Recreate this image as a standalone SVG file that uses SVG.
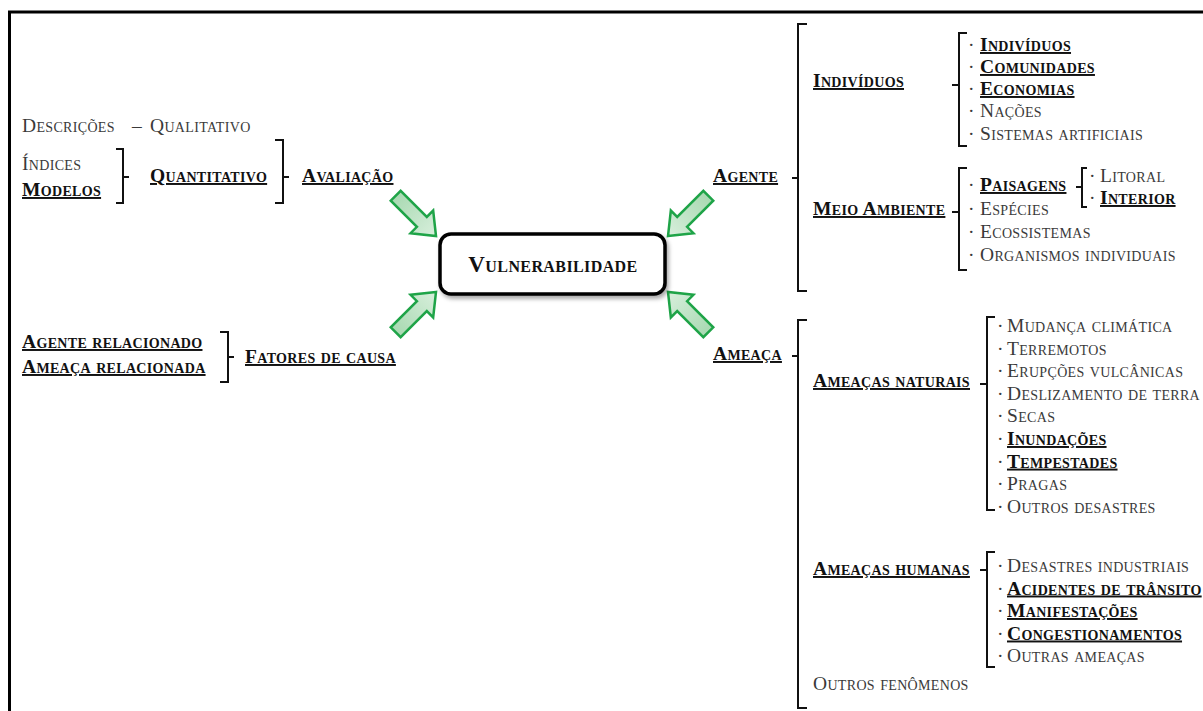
<svg xmlns="http://www.w3.org/2000/svg" width="1203" height="711" viewBox="0 0 1203 711">
<defs>
<style>
.t{font-family:"Liberation Serif","Times New Roman",serif;font-size:19.5px;letter-spacing:0.33px;font-variant:small-caps;fill:#3a3a3a}
.b{font-weight:bold;fill:#111;text-decoration:underline}
.br{fill:none;stroke:#111;stroke-width:2}
.arw{fill:url(#g);stroke:#1fa448;stroke-width:2.5;stroke-linejoin:miter}
</style>
<linearGradient id="g" x1="0" y1="0" x2="1" y2="0">
<stop offset="0" stop-color="#a9d9b2"/>
<stop offset="1" stop-color="#d8efdc"/>
</linearGradient>
<filter id="sh" x="-10%" y="-20%" width="130%" height="150%">
<feDropShadow dx="2" dy="3" stdDeviation="2" flood-color="#000" flood-opacity="0.35"/>
</filter>
<path id="arrow" d="M0,0 L-20,-16 L-20,-7 L-57,-7 L-57,7 L-20,7 L-20,16 Z"/>
</defs>
<rect width="1203" height="711" fill="#fff"/>
<path d="M9.5,711 V12 H1203" fill="none" stroke="#000" stroke-width="3"/>

<g id="connectors">
<path class="br" d="M116,149 H123 V203 H116 M123,177 H129"/>
<path class="br" d="M275,140 H283 V203 H275 M283,177 H289"/>
<path class="br" d="M220,332 H228 V382 H220 M228,357 H234"/>
<path class="br" d="M807,24 H798 V291 H807 M798,178 H792"/>
<path class="br" d="M807,320 H798 V708 H807 M798,356 H792"/>
<path class="br" d="M967,33 H959 V146 H967 M959,85 H952"/>
<path class="br" d="M967,168 H959 V270 H967 M959,212 H952"/>
<path class="br" d="M1087,168 H1082 V207 H1087 M1082,187 H1076"/>
<path class="br" d="M995,317 H987 V510 H995 M987,384 H980"/>
<path class="br" d="M995,552 H987 V667 H995 M987,570 H980"/>
<use href="#arrow" class="arw" transform="translate(436,236) rotate(45)"/>
<use href="#arrow" class="arw" transform="translate(668,236) rotate(135)"/>
<use href="#arrow" class="arw" transform="translate(436,292) rotate(-45)"/>
<use href="#arrow" class="arw" transform="translate(668,292) rotate(-135)"/>
</g>

<g id="vulnerabilidade">
<rect x="440" y="234" width="225" height="60" rx="11" fill="#fff" stroke="#000" stroke-width="3.5" filter="url(#sh)"/>
<text class="t" x="553" y="272" text-anchor="middle" style="font-size:23px;letter-spacing:0.4px;font-weight:bold;fill:#111">Vulnerabilidade</text>
</g>

<g id="avaliacao">
<text class="t" y="132"><tspan x="22">Descrições</tspan><tspan x="132">–</tspan><tspan x="150">Qualitativo</tspan></text>
<text class="t" x="22" y="170">Índices</text>
<text class="t b" x="22" y="196">Modelos</text>
<text class="t b" x="150" y="182">Quantitativo</text>
<text class="t b" x="302" y="182">Avaliação</text>
</g>

<g id="fatores">
<text class="t b" x="22" y="348">Agente relacionado</text>
<text class="t b" x="22" y="373">Ameaça relacionada</text>
<text class="t b" x="245" y="363">Fatores de causa</text>
</g>

<g id="agente">
<text class="t b" x="713" y="182">Agente</text>
</g>

<g id="individuos">
<text class="t b" x="813" y="87">Indivíduos</text>
<text class="t"><tspan x="968" y="51">·</tspan><tspan x="980" y="51" class="b">Indivíduos</tspan></text>
<text class="t"><tspan x="968" y="73">·</tspan><tspan x="980" y="73" class="b">Comunidades</tspan></text>
<text class="t"><tspan x="968" y="95">·</tspan><tspan x="980" y="95" class="b">Economias</tspan></text>
<text class="t"><tspan x="968" y="117">·</tspan><tspan x="980" y="117">Nações</tspan></text>
<text class="t"><tspan x="968" y="140">·</tspan><tspan x="980" y="140">Sistemas artificiais</tspan></text>
</g>

<g id="meio-ambiente">
<text class="t b" x="813" y="215">Meio Ambiente</text>
<text class="t"><tspan x="968" y="191">·</tspan><tspan x="980" y="191" class="b">Paisagens</tspan></text>
<text class="t"><tspan x="968" y="215">·</tspan><tspan x="980" y="215">Espécies</tspan></text>
<text class="t"><tspan x="968" y="238">·</tspan><tspan x="980" y="238">Ecossistemas</tspan></text>
<text class="t"><tspan x="968" y="261">·</tspan><tspan x="980" y="261">Organismos individuais</tspan></text>
<text class="t"><tspan x="1089" y="182">·</tspan><tspan x="1100" y="182">Litoral</tspan></text>
<text class="t"><tspan x="1089" y="204">·</tspan><tspan x="1100" y="204" class="b">Interior</tspan></text>
</g>

<g id="ameaca">
<text class="t b" x="713" y="360">Ameaça</text>
</g>

<g id="ameacas-naturais">
<text class="t b" x="813" y="387">Ameaças naturais</text>
<text class="t"><tspan x="997" y="332">·</tspan><tspan x="1007" y="332">Mudança climática</tspan></text>
<text class="t"><tspan x="997" y="354.6">·</tspan><tspan x="1007" y="354.6">Terremotos</tspan></text>
<text class="t"><tspan x="997" y="377.2">·</tspan><tspan x="1007" y="377.2">Erupções vulcânicas</tspan></text>
<text class="t"><tspan x="997" y="399.8">·</tspan><tspan x="1007" y="399.8">Deslizamento de terra</tspan></text>
<text class="t"><tspan x="997" y="422.4">·</tspan><tspan x="1007" y="422.4">Secas</tspan></text>
<text class="t"><tspan x="997" y="445">·</tspan><tspan x="1007" y="445" class="b">Inundações</tspan></text>
<text class="t"><tspan x="997" y="467.6">·</tspan><tspan x="1007" y="467.6" class="b">Tempestades</tspan></text>
<text class="t"><tspan x="997" y="490.2">·</tspan><tspan x="1007" y="490.2">Pragas</tspan></text>
<text class="t"><tspan x="997" y="512.8">·</tspan><tspan x="1007" y="512.8">Outros desastres</tspan></text>
</g>

<g id="ameacas-humanas">
<text class="t b" x="813" y="575">Ameaças humanas</text>
<text class="t"><tspan x="997" y="572">·</tspan><tspan x="1007" y="572">Desastres industriais</tspan></text>
<text class="t"><tspan x="997" y="594.5">·</tspan><tspan x="1007" y="594.5" class="b">Acidentes de trânsito</tspan></text>
<text class="t"><tspan x="997" y="617">·</tspan><tspan x="1007" y="617" class="b">Manifestações</tspan></text>
<text class="t"><tspan x="997" y="639.5">·</tspan><tspan x="1007" y="639.5" class="b">Congestionamentos</tspan></text>
<text class="t"><tspan x="997" y="662">·</tspan><tspan x="1007" y="662">Outras ameaças</tspan></text>
</g>

<g id="outros-fenomenos">
<text class="t" x="813" y="690">Outros fenômenos</text>
</g>
</svg>
